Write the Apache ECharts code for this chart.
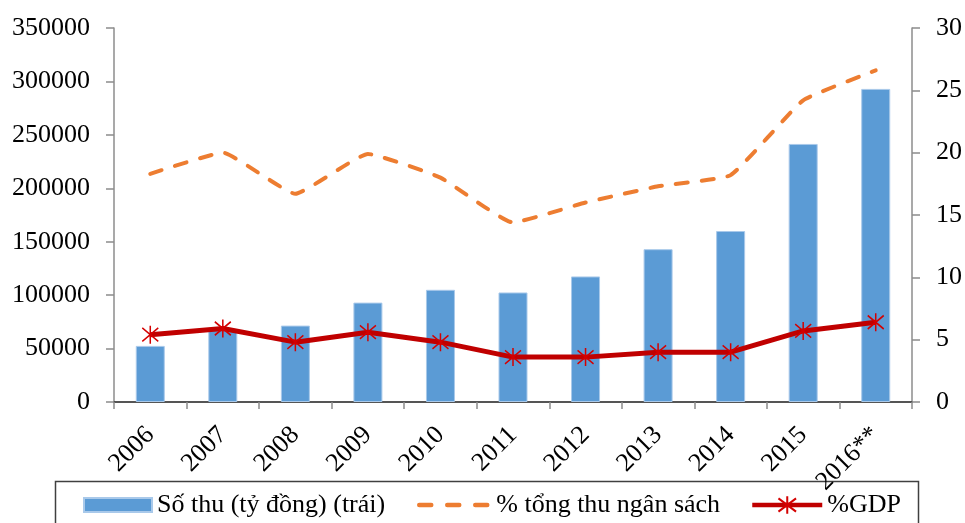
<!DOCTYPE html>
<html>
<head>
<meta charset="utf-8">
<script src="https://cdn.jsdelivr.net/npm/echarts@6/dist/echarts.min.js"></script>
<style>
  html, body { margin: 0; padding: 0; background: #fff; }
  #chart { width: 965px; height: 523px; }
</style>
</head>
<body>
<div id="chart"></div>
<script>
// Năm
const years = ['2006', '2007', '2008', '2009', '2010', '2011', '2012', '2013', '2014', '2015', '2016**'];
// Số thu (tỷ đồng) – trục trái
const soThu = [52500, 67500, 71500, 93000, 105000, 102500, 117500, 143000, 160000, 241500, 293000];
// % tổng thu ngân sách – trục phải
const pctNganSach = [18.3, 20.0, 16.7, 19.9, 18.0, 14.4, 16.0, 17.3, 18.2, 24.2, 26.6];
// % GDP – trục phải
const pctGDP = [5.4, 5.9, 4.8, 5.6, 4.8, 3.6, 3.6, 4.0, 4.0, 5.7, 6.4];

const NAME_BAR = 'Số thu (tỷ đồng) (trái)';
const NAME_BUDGET = '% tổng thu ngân sách';
const NAME_GDP = '%GDP';

const FONT = '"Liberation Serif", "Times New Roman", serif';
const AXIS_GREY = '#8c8c8c';

const chart = echarts.init(document.getElementById('chart'), null, { renderer: 'canvas' });

// Dấu hoa thị (đường dọc + chữ X) cho chuỗi %GDP
const starPath = 'path://M7,0 L7,16 M0,2 L14,14 M0,14 L14,2';

const legendText = { fontFamily: FONT, fontSize: 26, color: '#000', lineHeight: 30 };

chart.setOption({
  animation: false,
  backgroundColor: '#ffffff',
  textStyle: { fontFamily: FONT, color: '#000' },
  grid: { left: 114, right: 52, top: 28, bottom: 121, containLabel: false },
  // khung chú giải
  graphic: [
    {
      type: 'rect',
      shape: { x: 55.5, y: 481.5, width: 863, height: 60 },
      style: { fill: 'none', stroke: '#404040', lineWidth: 1.5 },
      silent: true,
      z: 0
    }
  ],
  legend: [
    {
      left: 83, top: 490, padding: 0,
      itemWidth: 68, itemHeight: 14,
      textStyle: legendText,
      data: [{ name: NAME_BAR, icon: 'rect' }]
    },
    {
      left: 417, top: 490, padding: 0,
      itemWidth: 72, itemHeight: 14,
      textStyle: legendText,
      lineStyle: { width: 4.5, type: [12, 16], cap: 'round' },
      data: [{ name: NAME_BUDGET, itemStyle: { opacity: 0 } }]
    },
    {
      left: 750, top: 490, padding: 0,
      itemWidth: 70, itemHeight: 22,
      textStyle: legendText,
      lineStyle: { width: 4.5 },
      data: [{ name: NAME_GDP }]
    }
  ],
  xAxis: [
    {
      type: 'category',
      data: years,
      position: 'bottom',
      axisLine: { lineStyle: { color: AXIS_GREY, width: 1.5 } },
      axisTick: { show: true, alignWithLabel: false, length: 7, lineStyle: { color: AXIS_GREY, width: 1.5 } },
      axisLabel: { rotate: 45, margin: 29, fontFamily: FONT, fontSize: 26, color: '#000', interval: 0 }
    },
    {
      // đường viền phía trên vùng vẽ
      type: 'category',
      data: years,
      position: 'top',
      axisLine: { show: true, lineStyle: { color: '#3a3a3a', width: 1.5 } },
      axisTick: { show: false },
      axisLabel: { show: false }
    }
  ],
  yAxis: [
    {
      type: 'value',
      min: 0,
      max: 350000,
      interval: 50000,
      position: 'left',
      splitLine: { show: false },
      axisLine: { show: true, lineStyle: { color: AXIS_GREY, width: 1.5 } },
      axisTick: { show: true, length: 8, lineStyle: { color: AXIS_GREY, width: 1.5 } },
      axisLabel: { margin: 24, fontFamily: FONT, fontSize: 26, color: '#000', formatter: (v) => String(v) }
    },
    {
      type: 'value',
      min: 0,
      max: 30,
      interval: 5,
      position: 'right',
      splitLine: { show: false },
      axisLine: { show: true, lineStyle: { color: AXIS_GREY, width: 1.5 } },
      axisTick: { show: true, length: 8, lineStyle: { color: AXIS_GREY, width: 1.5 } },
      axisLabel: { margin: 24, fontFamily: FONT, fontSize: 26, color: '#000' }
    }
  ],
  series: [
    {
      name: NAME_BAR,
      type: 'bar',
      xAxisIndex: 0,
      yAxisIndex: 0,
      data: soThu,
      barWidth: 29,
      itemStyle: { color: '#5b9bd5', borderColor: '#a9c9ea', borderWidth: 1 },
      z: 1
    },
    {
      name: NAME_BUDGET,
      type: 'line',
      xAxisIndex: 0,
      yAxisIndex: 1,
      data: pctNganSach,
      smooth: 0.12,
      symbol: 'none',
      lineStyle: { color: '#ed7d31', width: 4, type: [12, 14], cap: 'round' },
      itemStyle: { color: '#ed7d31' },
      z: 3
    },
    {
      name: NAME_GDP,
      type: 'line',
      xAxisIndex: 0,
      yAxisIndex: 1,
      data: pctGDP,
      symbol: starPath,
      symbolSize: [16, 18],
      showAllSymbol: true,
      lineStyle: { color: '#c00000', width: 5 },
      itemStyle: { color: 'rgba(0,0,0,0)', borderColor: '#d40000', borderWidth: 1.6 },
      z: 4
    }
  ]
});
</script>
</body>
</html>
